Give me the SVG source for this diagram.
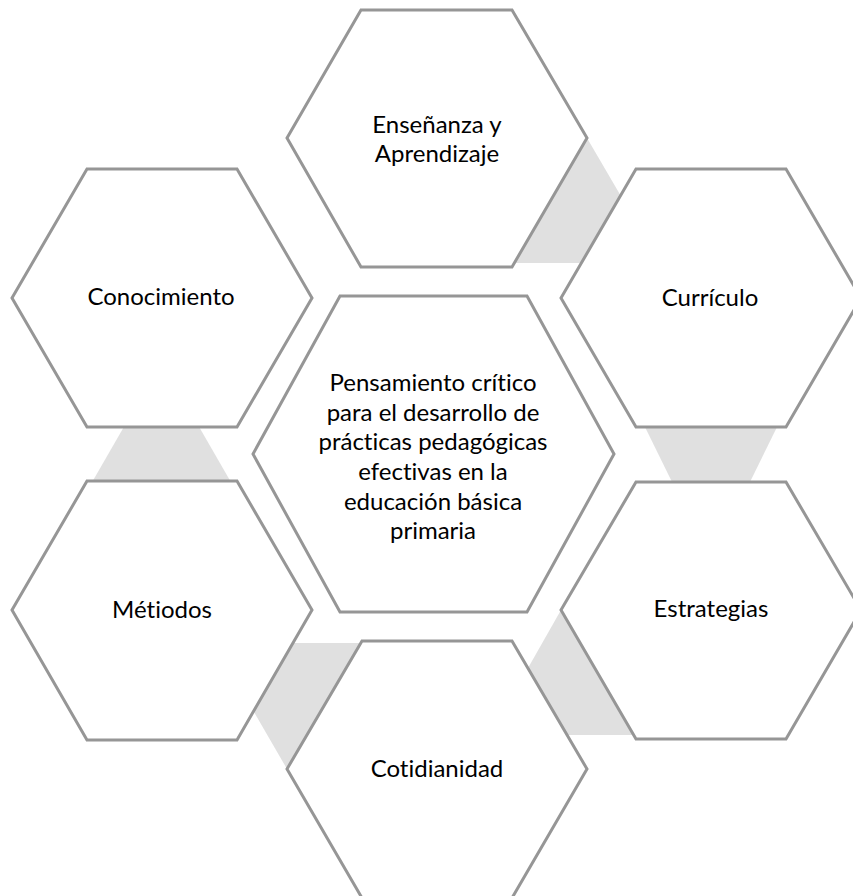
<svg xmlns="http://www.w3.org/2000/svg" width="853" height="896" viewBox="0 0 853 896">
<style>
.hex{fill:#ffffff;stroke:#969696;stroke-width:3;stroke-linejoin:miter}
.con{fill:#e0e0e0;stroke:none}
text{font-family:Lato,"Liberation Sans",sans-serif;font-size:24px;fill:#000000;text-anchor:middle;font-variant-ligatures:none;font-feature-settings:"liga" 0,"clig" 0}
</style>
<rect width="853" height="896" fill="#ffffff"/>
<g id="connectors">
<polygon class="con" points="587,138 660,263 500,263 550,148"/>
<polygon class="con" points="644,425 778,425 749,484 673,484"/>
<polygon class="con" points="561,610 490,735 650,735 600,620"/>
<polygon class="con" points="287,769 214,643 370,643 330,760"/>
<polygon class="con" points="125,425 198,425 232,484 91,484"/>
</g>
<g id="ensenanza">
<polygon class="hex" points="361,10 512,10 587,138 512,267 361,267 287,138"/>
<text x="437" y="133">Enseñanza y</text>
<text x="437" y="162">Aprendizaje</text>
</g>
<g id="curriculo">
<polygon class="hex" points="636,169 786,169 861,298 786,427 636,427 561,298"/>
<text x="710" y="306">Currículo</text>
</g>
<g id="estrategias">
<polygon class="hex" points="636,482 786,482 861,610 786,739 636,739 561,610"/>
<text x="711" y="617">Estrategias</text>
</g>
<g id="cotidianidad">
<polygon class="hex" points="362,641 512,641 587,769 512,898 362,898 287,769"/>
<text x="437" y="777">Cotidianidad</text>
</g>
<g id="metodos">
<polygon class="hex" points="87,481 237,481 312,610 237,740 87,740 12,610"/>
<text x="162" y="618">Métiodos</text>
</g>
<g id="conocimiento">
<polygon class="hex" points="87,169 237,169 312,298 237,427 87,427 12,298"/>
<text x="161" y="305">Conocimiento</text>
</g>
<g id="centro">
<polygon class="hex" points="340,296 527,296 614,454 527,612 340,612 253,454"/>
<text x="433" y="391">Pensamiento crítico</text>
<text x="433" y="421">para el desarrollo de</text>
<text x="433" y="450">prácticas pedagógicas</text>
<text x="433" y="480">efectivas en la</text>
<text x="433" y="510">educación básica</text>
<text x="433" y="539">primaria</text>
</g>
</svg>
